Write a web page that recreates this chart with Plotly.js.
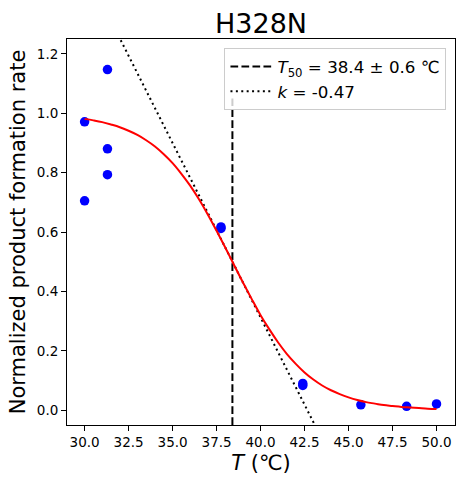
<!DOCTYPE html>
<html>
<head>
<meta charset="utf-8">
<script src="https://cdn.plot.ly/plotly-3.0.1.min.js"></script>
<style>html,body{margin:0;padding:0;background:#fff;}#chart{width:464px;height:487px;}</style>
</head>
<body>
<div id="chart"></div>
<script>
// measured data points
const pointT = [30.0, 30.0, 31.3, 31.3, 31.3, 37.75, 37.75, 42.4, 42.4, 45.7, 48.3, 50.0];
const pointY = [0.971, 0.705, 1.147, 0.880, 0.793, 0.617, 0.612, 0.083, 0.090, 0.018, 0.013, 0.021];

// fitted curve
const curveT = [30, 30.5, 31, 31.5, 32, 32.5, 33, 33.5, 34, 34.5, 35, 35.5, 36, 36.5, 37, 37.5, 38, 38.5, 39, 39.5, 40,
                40.5, 41, 41.5, 42, 42.5, 43, 43.5, 44, 44.5, 45, 45.5, 46, 46.5, 47, 47.5, 48, 48.5, 49, 49.5, 50];
const curveY = [0.981, 0.976, 0.970, 0.962, 0.953, 0.941, 0.927, 0.909, 0.888, 0.862, 0.832, 0.796, 0.756, 0.710, 0.659, 0.604, 0.547, 0.488, 0.430, 0.374, 0.320,
                0.272, 0.228, 0.189, 0.156, 0.127, 0.103, 0.083, 0.067, 0.054, 0.043, 0.034, 0.027, 0.022, 0.017, 0.014, 0.011, 0.009, 0.007, 0.005, 0.004];

// T50 marker line
const t50T = [38.4, 38.4];
const t50Y = [-0.05, 1.05];

// slope (tangent) line
const slopeT = [31.5, 43.5];
const slopeY = [1.311, -0.099];

const xTickVals = [30, 32.5, 35, 37.5, 40, 42.5, 45, 47.5, 50];
const xTickText = ["30.0", "32.5", "35.0", "37.5", "40.0", "42.5", "45.0", "47.5", "50.0"];
const yTickVals = [0, 0.2, 0.4, 0.6, 0.8, 1.0, 1.2];
const yTickText = ["0.0", "0.2", "0.4", "0.6", "0.8", "1.0", "1.2"];

const FONT = "DejaVu Sans, sans-serif";

const traces = [
  {x: t50T, y: t50Y, mode: 'lines', name: '<i>T</i><sub>50</sub> = 38.4 ± 0.6 ℃',
   line: {color: 'black', width: 2, dash: '7.7px,3.3px'}, showlegend: true},
  {x: slopeT, y: slopeY, mode: 'lines', name: '<i>k</i> = -0.47',
   line: {color: 'black', width: 2, dash: '2px,3.4px'}, showlegend: true},
  {x: pointT, y: pointY, mode: 'markers', marker: {color: 'blue', size: 9.5}, showlegend: false},
  {x: curveT, y: curveY, mode: 'lines', line: {color: 'red', width: 2, shape: 'spline'}, showlegend: false}
];

const layout = {
  width: 464, height: 487,
  margin: {l: 67, r: 9, t: 39, b: 62},
  paper_bgcolor: 'white', plot_bgcolor: 'white',
  font: {family: FONT, color: 'black', size: 14},
  title: {text: 'H328N', font: {family: FONT, size: 27, color: 'black'},
          x: 0.5, xref: 'paper', y: 1, yref: 'paper', yanchor: 'bottom', pad: {b: 6}},
  xaxis: {range: [29, 51.05], tickvals: xTickVals, ticktext: xTickText,
          ticks: 'outside', ticklen: 5, tickwidth: 1, tickcolor: 'black',
          showline: true, linecolor: 'black', linewidth: 1, mirror: true,
          showgrid: false, zeroline: false, tickfont: {size: 13.5, family: FONT},
          title: {text: '<i>T</i> (℃)', font: {size: 21, family: FONT}, standoff: 6}},
  yaxis: {range: [-0.05, 1.25], tickvals: yTickVals, ticktext: yTickText,
          ticks: 'outside', ticklen: 5, tickwidth: 1, tickcolor: 'black',
          showline: true, linecolor: 'black', linewidth: 1, mirror: true,
          showgrid: false, zeroline: false, tickfont: {size: 13.5, family: FONT},
          title: {text: 'Normalized product formation rate', font: {size: 21, family: FONT}, standoff: 5}},
  showlegend: true,
  legend: {x: 0.978, xanchor: 'right', y: 0.976, yanchor: 'top',
           bgcolor: 'rgba(255,255,255,0.8)', bordercolor: '#cccccc', borderwidth: 1,
           itemwidth: 42,
           font: {size: 16.7, family: FONT}, tracegroupgap: 0}
};

Plotly.newPlot('chart', traces, layout, {displayModeBar: false, staticPlot: true});
</script>
</body>
</html>
